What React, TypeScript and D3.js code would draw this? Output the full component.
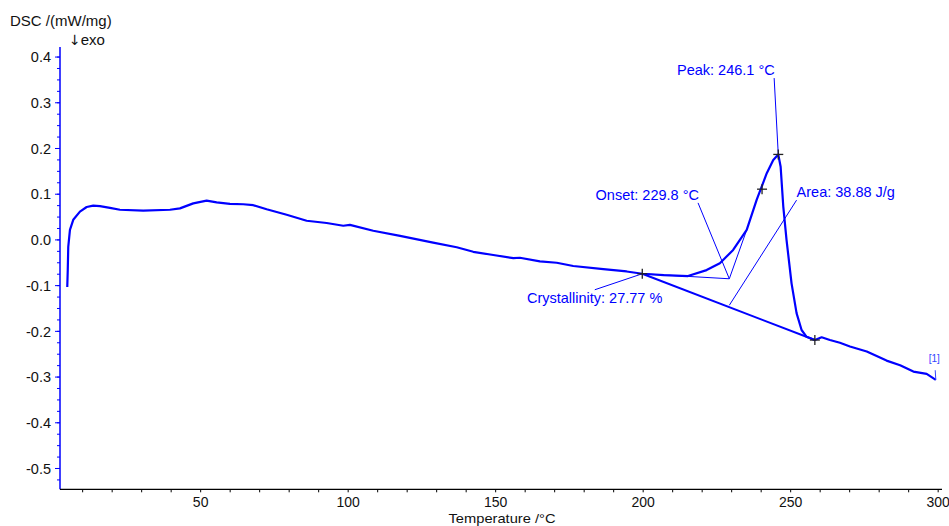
import React from 'react';
import * as d3 from 'd3';

// DSC curve
const temperature = [4.78, 4.95, 5.12, 5.69, 6.81, 9.08, 11.36, 13.59, 15.86, 19.25, 22.64, 30.54, 39.59, 42.98,
  47.49, 52.03, 55.42, 59.93, 64.44, 67.83, 72.37, 79.15, 85.93, 92.71, 98.34, 100.6, 108.5, 117.6, 128.8,
  136.8, 142.4, 149.2, 156.0, 158.2, 165.0, 170.7, 176.3, 186.5, 194.4, 199.7, 207.0, 215.2, 221.5, 226.0,
  230.5, 235.1, 238.5, 241.9, 244.1, 245.8, 246.6, 247.5, 248.6, 250.3, 252.0, 253.7, 255.4, 258.2, 260.5,
  263.3, 266.7, 270.1, 275.8, 282.5, 287.1, 291.6, 296.1, 299.2];
const dsc = [-0.103, -0.066, -0.015, 0.022, 0.044, 0.062, 0.072, 0.075, 0.074, 0.070, 0.066, 0.064, 0.066, 0.069,
  0.080, 0.086, 0.082, 0.079, 0.078, 0.076, 0.067, 0.055, 0.042, 0.037, 0.031, 0.033, 0.020, 0.009, -0.006,
  -0.016, -0.026, -0.033, -0.040, -0.039, -0.047, -0.050, -0.057, -0.064, -0.069, -0.074, -0.077, -0.079, -0.066, -0.051,
  -0.022, 0.022, 0.088, 0.146, 0.175, 0.187, 0.160, 0.073, 0.000, -0.095, -0.160, -0.197, -0.212, -0.219, -0.213,
  -0.219, -0.225, -0.233, -0.244, -0.264, -0.274, -0.288, -0.293, -0.306];

const xTicks = [50, 100, 150, 200, 250, 300];
const yTicks = [0.4, 0.3, 0.2, 0.1, 0.0, -0.1, -0.2, -0.3, -0.4, -0.5];

// evaluation points [temperature, dsc]
const crosses: [number, number][] = [[199.7, -0.074], [258.2, -0.219], [245.8, 0.187], [240.3, 0.111]];
const baseline: [number, number][] = [[199.7, -0.074], [258.2, -0.219]];
const onsetPoint: [number, number] = [229.2, -0.085];
const tangentTop: [number, number] = [235.1, 0.022];

const labels = [
  { text: 'Peak: 246.1 °C', at: [244.6, 0.371], anchor: 'end', from: [244.4, 0.354], to: [245.8, 0.187] },
  { text: 'Onset: 229.8 °C', at: [218.9, 0.099], anchor: 'end', from: [218.6, 0.081], to: [229.2, -0.085] },
  { text: 'Area: 38.88 J/g', at: [252.0, 0.105], anchor: 'start', from: [252.0, 0.087], to: [229.2, -0.143] },
  { text: 'Crystallinity: 27.77 %', at: [160.6, -0.126], anchor: 'start', from: [183.6, -0.109], to: [199.7, -0.074] },
];

const W = 949, H = 526;
const left = 60, right = 942, top = 47, bottom = 489.3;

export default function App() {
  const x = d3.scaleLinear().domain([2.32, 301.3]).range([left, right]);
  const y = d3.scaleLinear().domain([-0.5455, 0.422]).range([bottom, top]);
  const line = d3.line<number>().x((_, i) => x(temperature[i])).y((d) => y(d));
  const xMinor = d3.range(10, 301, 10);
  const yMinor = d3.range(-0.525, 0.42, 0.025);
  const blue = '#0000ff';
  const font = '"Liberation Sans", Arial, sans-serif';

  return (
    <svg width={W} height={H} style={{ position: 'absolute', left: 0, top: 0, background: '#fff' }} fontFamily={font}>
      {/* y axis */}
      <line x1={left} x2={left} y1={top} y2={bottom} stroke={blue} strokeWidth={1.5} />
      {yMinor.map((v, i) => (
        <line key={'ym' + i} x1={left - 3} x2={left} y1={y(v)} y2={y(v)} stroke={blue} strokeWidth={1} />
      ))}
      {yTicks.map((v) => (
        <g key={'y' + v}>
          <line x1={left - 5} x2={left} y1={y(v)} y2={y(v)} stroke={blue} strokeWidth={1} />
          <text x={51} y={y(v)} dy="0.36em" textAnchor="end" fontSize={14.5} fill="#111">{v.toFixed(1)}</text>
        </g>
      ))}
      {/* x axis */}
      <line x1={left} x2={right} y1={bottom} y2={bottom} stroke="#000" strokeWidth={1.2} />
      {xMinor.map((v) => (
        <line key={'xm' + v} x1={x(v)} x2={x(v)} y1={bottom} y2={bottom + 3} stroke="#000" strokeWidth={1} />
      ))}
      {xTicks.map((v) => (
        <text key={'x' + v} x={x(v)} y={507} textAnchor="middle" fontSize={14} fill="#111">{v}</text>
      ))}
      <text x={502} y={523} textAnchor="middle" fontSize={13.5} fill="#111" textLength={107} lengthAdjust="spacingAndGlyphs">Temperature /°C</text>
      <text x={10} y={26} fontSize={15} fill="#111">DSC /(mW/mg)</text>
      <text x={69} y={45} fontSize={15} fill="#111">
        <tspan fontFamily="DejaVu Sans" fontSize={14}>↓</tspan>exo
      </text>

      {/* evaluation lines */}
      <line x1={x(baseline[0][0])} y1={y(baseline[0][1])} x2={x(baseline[1][0])} y2={y(baseline[1][1])} stroke={blue} strokeWidth={2} />
      <line x1={x(baseline[0][0])} y1={y(baseline[0][1])} x2={x(onsetPoint[0])} y2={y(onsetPoint[1])} stroke={blue} strokeWidth={1} />
      <line x1={x(onsetPoint[0])} y1={y(onsetPoint[1])} x2={x(tangentTop[0])} y2={y(tangentTop[1])} stroke={blue} strokeWidth={1} />
      {labels.map((l) => (
        <g key={l.text}>
          <line x1={x(l.from[0])} y1={y(l.from[1])} x2={x(l.to[0])} y2={y(l.to[1])} stroke={blue} strokeWidth={1} />
          <text x={x(l.at[0])} y={y(l.at[1])} dy="0.35em" textAnchor={l.anchor as any} fontSize={14.5} fill={blue}>{l.text}</text>
        </g>
      ))}

      {/* curve */}
      <path d={line(dsc) || ''} fill="none" stroke={blue} strokeWidth={2.2} strokeLinejoin="round" />

      {crosses.map(([t, d], i) => (
        <g key={'c' + i} stroke="#222" strokeWidth={1.3}>
          <line x1={x(t) - 5} x2={x(t) + 5} y1={y(d)} y2={y(d)} />
          <line x1={x(t)} x2={x(t)} y1={y(d) - 5} y2={y(d) + 5} />
        </g>
      ))}

      {/* curve tag */}
      <line x1={x(299.0)} y1={y(-0.285)} x2={x(299.2)} y2={y(-0.306)} stroke="#3344ff" strokeWidth={1} />
      <text x={x(298.7)} y={y(-0.268)} textAnchor="middle" fontSize={10} fill="#3344ff">[1]</text>
    </svg>
  );
}
